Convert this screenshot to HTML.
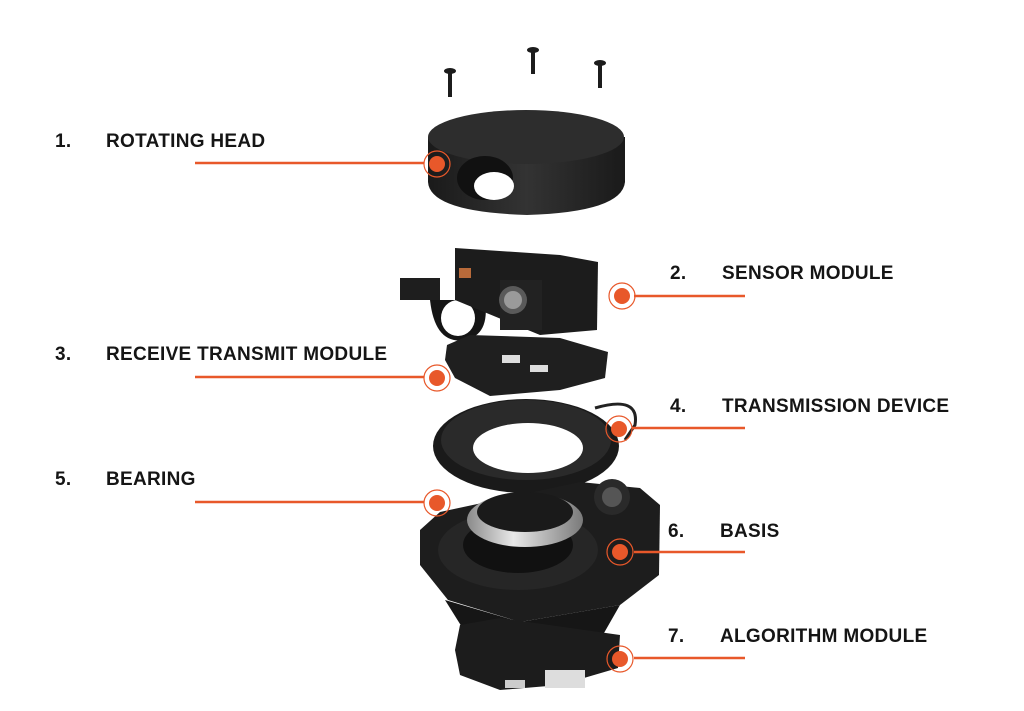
<!DOCTYPE html>
<html><head><meta charset="utf-8"><style>
html,body{margin:0;padding:0;background:#fff;}
#c{position:relative;width:1024px;height:711px;overflow:hidden;background:#fff;font-family:"Liberation Sans",Arial,sans-serif;}
.t{position:absolute;font-weight:bold;font-size:19px;color:#151515;letter-spacing:0.3px;line-height:20px;}
</style></head><body><div id="c">
<svg width="1024" height="711" style="position:absolute;left:0;top:0">
<defs>
<linearGradient id="g1" x1="0" x2="1"><stop offset="0" stop-color="#1a1a1a"/><stop offset=".5" stop-color="#333"/><stop offset="1" stop-color="#1a1a1a"/></linearGradient>
<linearGradient id="sv" x1="0" x2="1"><stop offset="0" stop-color="#8a8a8a"/><stop offset=".4" stop-color="#e8e8e8"/><stop offset="1" stop-color="#7a7a7a"/></linearGradient>
</defs>
<g fill="#1c1c1c">
<ellipse cx="450" cy="71" rx="6" ry="3"/><rect x="448" y="71" width="4" height="26"/>
<ellipse cx="533" cy="50" rx="6" ry="3"/><rect x="531" y="50" width="4" height="24"/>
<ellipse cx="600" cy="63" rx="6" ry="3"/><rect x="598" y="63" width="4" height="25"/>
</g>
<path d="M428,137 L428,182 Q430,212 527,215 Q622,212 625,182 L625,137 Z" fill="url(#g1)"/>
<ellipse cx="526" cy="137" rx="98" ry="27" fill="#2d2d2d"/>
<ellipse cx="485" cy="178" rx="28" ry="22" fill="#111"/>
<ellipse cx="494" cy="186" rx="20" ry="14" fill="#fff"/>
<rect x="400" y="278" width="40" height="22" fill="#1e1e1e"/>
<path d="M430,300 Q435,345 465,340 Q490,335 485,300 Z" fill="#151515"/>
<ellipse cx="458" cy="318" rx="17" ry="18" fill="#fff"/>
<path d="M455,248 L560,255 L598,262 L597,330 L540,335 L455,300 Z" fill="#1c1c1c"/>
<rect x="500" y="280" width="42" height="50" fill="#222"/>
<circle cx="513" cy="300" r="14" fill="#5a5a5a"/><circle cx="513" cy="300" r="9" fill="#9a9a9a"/>
<rect x="459" y="268" width="12" height="10" fill="#b86a3a"/>
<path d="M447,345 L470,335 L560,338 L608,352 L605,378 L560,390 L490,396 L455,378 L445,360 Z" fill="#1f1f1f"/>
<rect x="502" y="355" width="18" height="8" fill="#ddd"/><rect x="530" y="365" width="18" height="7" fill="#ddd"/>
<ellipse cx="526" cy="446" rx="93" ry="47" fill="#1a1a1a"/>
<ellipse cx="526" cy="440" rx="85" ry="40" fill="#2a2a2a"/>
<ellipse cx="528" cy="448" rx="55" ry="25" fill="#fff"/>
<path d="M595,408 Q640,395 635,425 L625,440" stroke="#222" stroke-width="3" fill="none"/>
<path d="M420,530 L440,512 L580,482 L640,488 L660,505 L659,575 L620,605 L520,622 L448,600 L420,565 Z" fill="#1d1d1d"/>
<path d="M445,600 L520,622 L620,605 L600,640 L470,640 Z" fill="#161616"/>
<ellipse cx="518" cy="550" rx="80" ry="40" fill="#262626"/>
<ellipse cx="518" cy="545" rx="55" ry="28" fill="#111"/>
<circle cx="612" cy="497" r="18" fill="#2a2a2a"/><circle cx="612" cy="497" r="10" fill="#555"/>
<ellipse cx="525" cy="520" rx="58" ry="27" fill="url(#sv)"/>
<ellipse cx="525" cy="512" rx="48" ry="20" fill="#1a1a1a"/>
<path d="M460,625 L500,618 L620,635 L618,668 L560,685 L500,690 L460,675 L455,650 Z" fill="#1c1c1c"/>
<rect x="545" y="670" width="40" height="18" fill="#ddd"/><rect x="505" y="680" width="20" height="8" fill="#ccc"/>
<g stroke="#e8582a" stroke-width="2.5" fill="none">
<line x1="195" y1="163" x2="424" y2="163"/>
<line x1="195" y1="377" x2="424" y2="377"/>
<line x1="195" y1="502" x2="424" y2="502"/>
<line x1="634" y1="296" x2="745" y2="296"/>
<line x1="632" y1="428" x2="745" y2="428"/>
<line x1="634" y1="552" x2="745" y2="552"/>
<line x1="634" y1="658" x2="745" y2="658"/>
</g>
<g fill="#e8582a">
<circle cx="437" cy="164" r="8"/><circle cx="437" cy="378" r="8"/><circle cx="437" cy="503" r="8"/>
<circle cx="622" cy="296" r="8"/><circle cx="619" cy="429" r="8"/><circle cx="620" cy="552" r="8"/><circle cx="620" cy="659" r="8"/>
</g>
<g stroke="#e8582a" stroke-width="1.2" fill="none">
<circle cx="437" cy="164" r="13"/><circle cx="437" cy="378" r="13"/><circle cx="437" cy="503" r="13"/>
<circle cx="622" cy="296" r="13"/><circle cx="619" cy="429" r="13"/><circle cx="620" cy="552" r="13"/><circle cx="620" cy="659" r="13"/>
</g>
</svg>
<div class="t" style="left:55px;top:132px">1.</div><div class="t" style="left:106px;top:132px">ROTATING HEAD</div>
<div class="t" style="left:670px;top:264px">2.</div><div class="t" style="left:722px;top:264px">SENSOR MODULE</div>
<div class="t" style="left:55px;top:345px">3.</div><div class="t" style="left:106px;top:345px">RECEIVE TRANSMIT MODULE</div>
<div class="t" style="left:670px;top:397px">4.</div><div class="t" style="left:722px;top:397px">TRANSMISSION DEVICE</div>
<div class="t" style="left:55px;top:470px">5.</div><div class="t" style="left:106px;top:470px">BEARING</div>
<div class="t" style="left:668px;top:522px">6.</div><div class="t" style="left:720px;top:522px">BASIS</div>
<div class="t" style="left:668px;top:627px">7.</div><div class="t" style="left:720px;top:627px">ALGORITHM MODULE</div>
</div></body></html>
